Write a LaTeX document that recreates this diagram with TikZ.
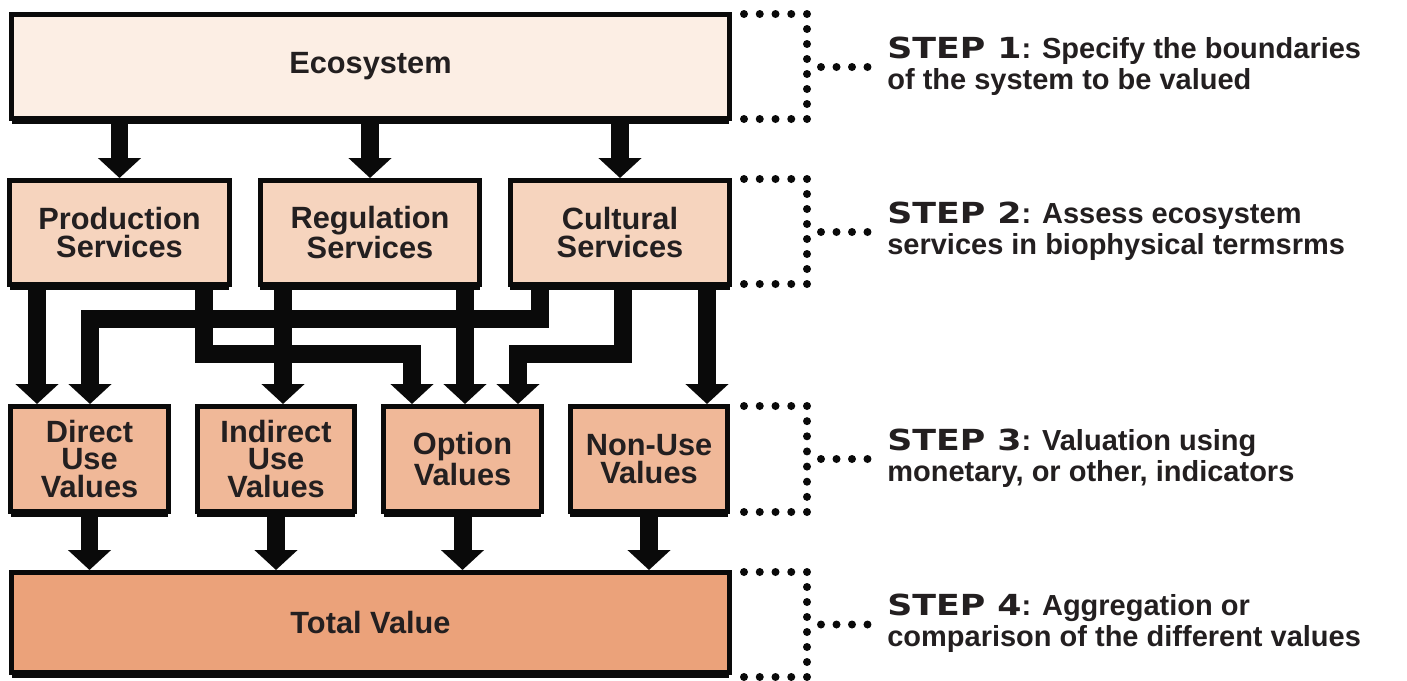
\documentclass[tikz,border=0pt]{standalone}
\usepackage{fontspec}
\setmainfont{Liberation Sans}
\newfontfamily\stepfont[FakeStretch=1.2]{DejaVu Sans}
\usetikzlibrary{arrows.meta,shadows}

\definecolor{ecofill}{HTML}{FCEEE4}
\definecolor{servfill}{HTML}{F6D4BE}
\definecolor{valfill}{HTML}{F0B898}
\definecolor{totalfill}{HTML}{EBA27A}
\definecolor{inkblack}{HTML}{0A0A0A}
\definecolor{textblack}{HTML}{231F20}

\newcommand{\steplabel}[1]{{\stepfont\bfseries STEP #1}}
% dotted bracket on the right of each row (top y, bottom y)
\newcommand{\dotbracket}[2]{%
  \foreach \i in {0,...,4} {
    \fill[inkblack] (744+15.75*\i,#1) circle[radius=0.08cm];
    \fill[inkblack] (744+15.75*\i,#2) circle[radius=0.08cm];
  }
  \foreach \i in {1,...,6}
    \fill[inkblack] (807,{#1+(#2-#1)*\i/7}) circle[radius=0.08cm];
}

\tikzset{
  box/.style={draw=inkblack, line width=0.1cm, align=center, text=textblack,
    font=\fontsize{17.5}{15.6}\selectfont\bfseries,
    general shadow={fill=inkblack, shadow yshift=-0.11cm}},
  wide/.style={box, minimum width=14.36cm},
  service/.style={box, fill=servfill, minimum width=4.4cm, minimum height=2.08cm},
  valuebox/.style={box, fill=valfill, minimum width=3.16cm, minimum height=2.1cm},
  flow/.style={draw=inkblack, line width=0.36cm, -{Triangle[width=0.84cm,length=0.4cm]}},
  steptext/.style={anchor=west, align=left, inner sep=0pt, text=textblack,
    font=\fontsize{16.5}{17.6}\selectfont\bfseries},
  dotline/.style={draw=inkblack, line width=0.16cm, line cap=round,
    dash pattern=on 0pt off 0.31cm, shorten >=0.2cm}
}

\begin{document}
\begin{tikzpicture}[x=0.02cm, y=-0.02cm]
  \useasboundingbox (0,0) rectangle (1407,680);

  % columns and bus levels of the connectors
  \coordinate (xa) at (37,0);
  \coordinate (xb) at (90,0);
  \coordinate (xc) at (204,0);
  \coordinate (xd) at (283,0);
  \coordinate (xe) at (412,0);
  \coordinate (xf) at (465,0);
  \coordinate (xg) at (518,0);
  \coordinate (xh) at (540,0);
  \coordinate (xi) at (623,0);
  \coordinate (xj) at (707,0);
  \coordinate (yhi) at (0,319);
  \coordinate (ylo) at (0,354);

  % Ecosystem
  \node[wide, fill=ecofill, minimum height=2.08cm] (eco) at (370.5,66.5) {Ecosystem};

  % Services
  \node[service] (prod) at (119.5,232.5) {Production\\Services};
  \node[service] (reg) at (370,232.5) {Regulation\\Services};
  \node[service] (cult) at (620,232.5) {Cultural\\Services};

  % Values
  \node[valuebox] (direct) at (89.5,459) {Direct\\Use\\Values};
  \node[valuebox] (indirect) at (276,459) {Indirect\\Use\\Values};
  \node[valuebox] (option) at (462.5,459) {Option\\Values};
  \node[valuebox] (nonuse) at (649,459) {Non-Use\\Values};

  % Total
  \node[wide, fill=totalfill, minimum height=2.0cm] (total) at (370.5,622.5) {Total Value};

  % Ecosystem -> services
  \draw[flow] (eco.south -| prod) -- (prod.north);
  \draw[flow] (eco.south -| reg) -- (reg.north);
  \draw[flow] (eco.south -| cult) -- (cult.north);

  % services -> values
  \draw[flow] (prod.south -| xa) -- (direct.north -| xa);
  \draw[flow] (prod.south -| xc) |- (ylo -| xe) -- (option.north -| xe);
  \draw[flow] (reg.south -| xd) -- (indirect.north -| xd);
  \draw[flow] (reg.south -| xf) -- (option.north -| xf);
  \draw[flow] (cult.south -| xh) |- (yhi -| xb) -- (direct.north -| xb);
  \draw[flow] (cult.south -| xi) |- (ylo -| xg) -- (option.north -| xg);
  \draw[flow] (cult.south -| xj) -- (nonuse.north -| xj);

  % values -> total
  \draw[flow] (direct.south) -- (total.north -| direct);
  \draw[flow] (indirect.south) -- (total.north -| indirect);
  \draw[flow] (option.south) -- (total.north -| option);
  \draw[flow] (nonuse.south) -- (total.north -| nonuse);

  % Steps
  \node[steptext] (s1) at (887,66) {\steplabel{1}: Specify the boundaries\\of the system to be valued};
  \node[steptext] (s2) at (887,231) {\steplabel{2}: Assess ecosystem\\services in biophysical termsrms};
  \node[steptext] (s3) at (887,458) {\steplabel{3}: Valuation using\\monetary, or other, indicators};
  \node[steptext] (s4) at (887,623) {\steplabel{4}: Aggregation or\\comparison of the different values};

  \dotbracket{14}{119}
  \dotbracket{179}{284}
  \dotbracket{406}{512}
  \dotbracket{572}{677}

  \coordinate (b1) at (821,67);
  \coordinate (b2) at (821,232);
  \coordinate (b3) at (821,459);
  \coordinate (b4) at (821,624.5);
  \draw[dotline] (b1) -- (s1.west |- b1);
  \draw[dotline] (b2) -- (s2.west |- b2);
  \draw[dotline] (b3) -- (s3.west |- b3);
  \draw[dotline] (b4) -- (s4.west |- b4);
\end{tikzpicture}
\end{document}
